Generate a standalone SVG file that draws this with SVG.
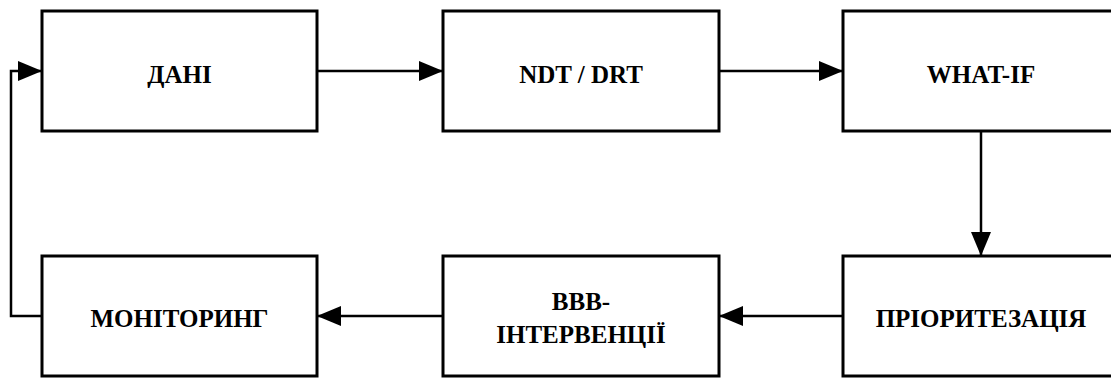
<svg xmlns="http://www.w3.org/2000/svg" width="1111" height="379" viewBox="0 0 1111 379">
<style>
.box{fill:#fff;stroke:#000;stroke-width:3}
.lbl{font-family:"Liberation Serif","Times New Roman",serif;font-weight:bold;font-size:25px;fill:#000;text-anchor:middle}
.con{fill:none;stroke:#000;stroke-width:2.5}
</style>
<defs>
<marker id="ah" markerUnits="userSpaceOnUse" markerWidth="24" markerHeight="20" refX="24" refY="10" orient="auto">
<path d="M0,0 L24,10 L0,20 z" fill="#000"/>
</marker>
</defs>
<rect width="1111" height="379" fill="#fff"/>
<g id="connectors">
<path class="con" d="M317,71 H443" marker-end="url(#ah)"/>
<path class="con" d="M719,71 H843" marker-end="url(#ah)"/>
<path class="con" d="M981,131 V256" marker-end="url(#ah)"/>
<path class="con" d="M843,316 H719" marker-end="url(#ah)"/>
<path class="con" d="M443,316 H317" marker-end="url(#ah)"/>
<path class="con" d="M42,316 H11 V71 H42" marker-end="url(#ah)"/>
</g>
<g id="node-dani">
<rect class="box" x="42" y="11" width="275" height="120"/>
<text class="lbl" x="179.5" y="83">ДАНІ</text>
</g>
<g id="node-ndt">
<rect class="box" x="443" y="11" width="276" height="120"/>
<text class="lbl" x="581" y="83">NDT / DRT</text>
</g>
<g id="node-whatif">
<rect class="box" x="843" y="11" width="276" height="120"/>
<text class="lbl" x="981" y="83">WHAT-IF</text>
</g>
<g id="node-priority">
<rect class="box" x="843" y="256" width="276" height="120"/>
<text class="lbl" x="981" y="327">ПРІОРИТЕЗАЦІЯ</text>
</g>
<g id="node-bbb">
<rect class="box" x="443" y="256" width="276" height="120"/>
<text class="lbl" x="581" y="310">BBB-</text>
<text class="lbl" x="581" y="343">ІНТЕРВЕНЦІЇ</text>
</g>
<g id="node-monitoring">
<rect class="box" x="42" y="256" width="275" height="120"/>
<text class="lbl" x="179.5" y="327">МОНІТОРИНГ</text>
</g>
</svg>
